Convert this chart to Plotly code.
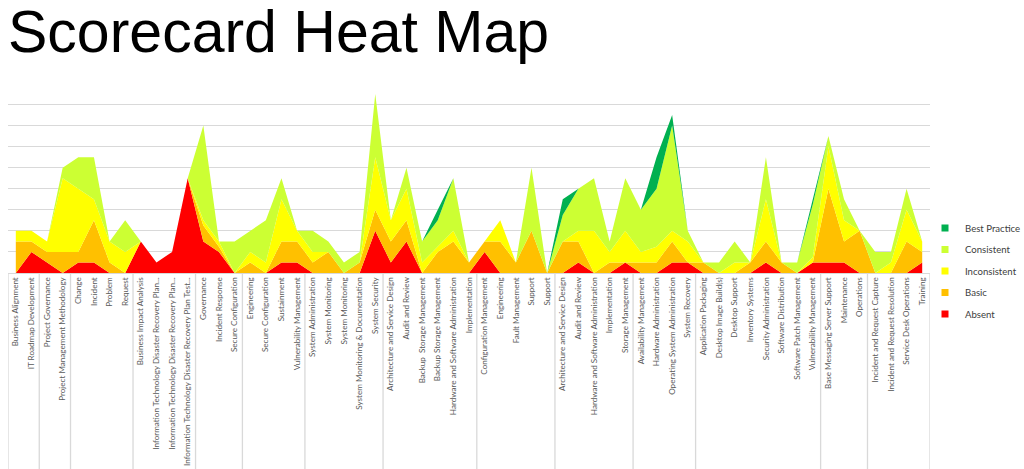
import plotly.graph_objects as go

categories = [
    "Business Alignment", "IT Roadmap Development",
    "Project Governance", "Project Management Methodology",
    "Change", "Incident", "Problem", "Request",
    "Business Impact Analysis", "Information Technology Disaster Recovery Plan...",
    "Information Technology Disaster Recovery Plan...", "Information Technology Disaster Recovery Plan Test...",
    "Governance", "Incident Response", "Secure Configuration",
    "Engineering", "Secure Configuration", "Sustainment", "Vulnerability Management",
    "System Administration", "System Monitoring", "System Monitoring",
    "System Monitoring & Documentation", "System Security",
    "Architecture and Service Design", "Audit and Review", "Backup  Storage Management",
    "Backup Storage Management", "Hardware and Software Administration", "Implementation",
    "Configuration Management", "Engineering", "Fault Management", "Support", "Support",
    "Architecture and Service Design", "Audit and Review", "Hardware and Software Administration",
    "Implementation", "Storage Management",
    "Availability Management", "Hardware Administration", "Operating System Administration",
    "System Recovery",
    "Application Packaging", "Desktop Image Build(s)", "Desktop Support", "Inventory Systems",
    "Security Administration", "Software Distribution", "Software Patch Management",
    "Vulnerability Management",
    "Base Messaging Server Support", "Maintenance", "Operations",
    "Incident and Request Capture", "Incident and Request Resolution",
    "Service Desk Operations", "Training",
]
group_sizes = [2, 2, 4, 4, 3, 4, 5, 6, 5, 5, 4, 8, 3, 4]

absent = [0, 1, 0.5, 0, 0.5, 0.5, 0, 0, 1.5, 0.5, 1, 4.5, 1.5, 1, 0,
          0, 0, 0.5, 0.5, 0, 0, 0, 0, 2, 0.5, 1.5, 0, 0, 0, 0,
          1, 0, 0, 0, 0, 0, 0.5, 0, 0, 0.5, 0, 0, 0.5, 0.5,
          0, 0, 0, 0, 0.5, 0, 0, 0.5, 0.5, 0.5, 0, 0, 0, 0, 0.5]
basic = [1.5, 0.5, 0.5, 1, 0.5, 2, 0.5, 0, 0, 0, 0, 0, 0.75, 0.25, 0,
         0.5, 0, 1, 1, 0.5, 1, 0, 0.5, 1, 1, 1, 0, 1, 1.5, 0.5,
         0.5, 1.5, 0.5, 2, 0, 1.5, 1, 0, 0.5, 0, 0.5, 0.5, 1, 0,
         0.5, 0, 0, 0.5, 1, 0.5, 0, 0, 3.5, 1, 2, 0, 0, 1.5, 0.5]
inconsistent = [0.5, 0.5, 0.5, 3.5, 3, 1, 1, 1, 0, 0, 0, 0, 0.25, 0.25, 0,
                0.5, 0.5, 2, 0.5, 0.5, 0, 0, 0, 2.5, 1, 1.5, 0.5, 0.25, 0.5, 0,
                0, 1, 0, 0, 0, 0, 0.5, 2, 0.5, 1.5, 0.5, 0.75, 0.5, 1,
                0, 0, 0.5, 0, 2, 0, 0, 0.25, 2, 1, 0, 0, 0.5, 1.5, 0.5]
consistent = [0, 0, 0, 0.5, 1.5, 2, 0, 1.5, 0, 0, 0, 0, 4.5, 0, 1.5,
              1, 2, 1, 0, 1, 0.5, 0.5, 0.5, 3, 0, 1, 1, 1.25, 2.5, 0,
              0, 0, 0, 3, 0, 1.25, 2, 2.5, 0.5, 2.5, 2, 2.75, 5, 0.5,
              0, 0.5, 1, 0, 2, 0, 0.5, 2.5, 0.5, 1, 0, 1, 0.5, 1, 0]
best_practice = [0, 0, 0, 0, 0, 0, 0, 0, 0, 0, 0, 0, 0, 0, 0,
                 0, 0, 0, 0, 0, 0, 0, 0, 0, 0, 0, 0, 0.5, 0, 0,
                 0, 0, 0, 0, 0, 0.75, 0, 0, 0, 0, 0, 1.5, 0.5, 0,
                 0, 0, 0, 0, 0, 0, 0, 0.25, 0, 0, 0, 0, 0, 0, 0]

series = [
    ("Absent", absent, "#FF0000"),
    ("Basic", basic, "#FFC000"),
    ("Inconsistent", inconsistent, "#FFFF00"),
    ("Consistent", consistent, "#CCFF33"),
    ("Best Practice", best_practice, "#00B050"),
]

x = list(range(len(categories)))
fig = go.Figure()
for name, vals, color in series:
    fig.add_trace(go.Scatter(
        x=x, y=vals, name=name, stackgroup="one", mode="lines",
        line=dict(width=0, color=color), fillcolor=color,
        showlegend=False, hoverinfo="x+y+name",
    ))
# legend entries, top to bottom: Best Practice ... Absent
for name, vals, color in reversed(series):
    fig.add_trace(go.Scatter(
        x=[None], y=[None], name=name, mode="markers", legendgroup=name,
        marker=dict(symbol="square", size=7, color=color), showlegend=True,
    ))

# group divider lines below the category axis
shapes = []
bounds = [-0.5]
acc = 0
for g in group_sizes:
    acc += g
    bounds.append(acc - 0.5)
for b in bounds:
    shapes.append(dict(type="line", xref="x", yref="paper", x0=b, x1=b, y0=0, y1=-1.05,
                       line=dict(color="#D9D9D9", width=1.3), layer="below"))

fig.update_layout(
    width=1024, height=469,
    margin=dict(l=8, r=94, t=83, b=196, autoexpand=False),
    paper_bgcolor="white", plot_bgcolor="white",
    title=dict(text="Scorecard Heat Map", x=8 / 1024, xanchor="left", xref="container",
               y=1 - 11 / 469, yanchor="top", yref="container",
               font=dict(family="Liberation Sans, Arial, sans-serif", size=59, color="#000000")),
    showlegend=True,
    legend=dict(traceorder="grouped", tracegroupgap=2.5,
                x=1 - 5 / 922, xanchor="left", y=0.01, yanchor="middle",
                font=dict(family="Lato, sans-serif", size=9.6, color="#404040"),
                bgcolor="rgba(0,0,0,0)"),
    shapes=shapes,
    xaxis=dict(range=[-0.5, 58.5], tickmode="array", tickvals=x, ticktext=categories,
               tickangle=-90, ticks="", showgrid=False, zeroline=False, automargin=False,
               showline=True, linecolor="#D9D9D9", linewidth=1,
               tickfont=dict(family="Lato, sans-serif", size=8.1, color="#595959")),
    yaxis=dict(range=[0, 9.02], dtick=1, showticklabels=False, showgrid=True,
               gridcolor="#D9D9D9", gridwidth=1.3, zeroline=False, showline=False,
               automargin=False),
)

fig.write_html("out.html")
